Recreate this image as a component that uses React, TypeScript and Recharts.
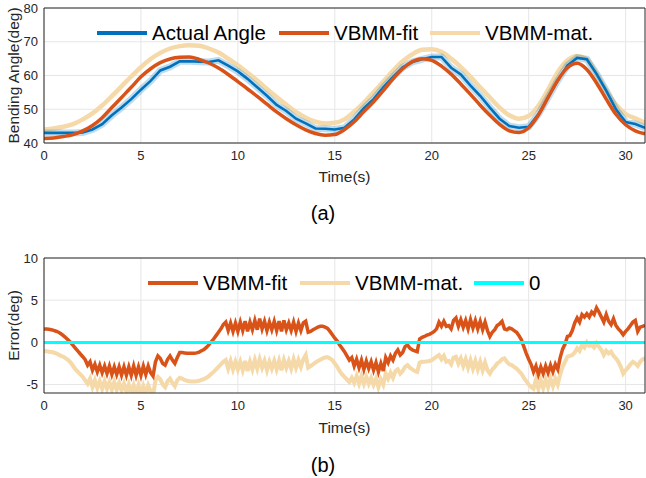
import { LineChart, Line, XAxis, YAxis, CartesianGrid } from "recharts";

const FONT = "'Liberation Sans', Arial, Helvetica, sans-serif";
const AXIS = "#262626";
const GRID = "#e6e6e6";
const BLUE = "#0072BD";
const ORANGE = "#D95319";
const BEIGE = "#F5D9A8";
const CYAN = "#00FFFF";

const timeTicks = [0, 5, 10, 15, 20, 25, 30];
const angleTicks = [40, 50, 60, 70, 80];
const errorTicks = [-5, 0, 5, 10];

// (a) bending angle, sampled every 0.5 s from t = 0 to 31
const actualAngle = [
  43, 43, 43, 43, 43.1, 44, 45.6, 48.2, 50.5, 53, 55.8, 58.4, 61.5, 62.6, 64.2, 64.2,
  64.1, 64, 64.5, 62.9, 61.2, 59, 56.5, 54, 51.3, 49.5, 47.2, 45.8, 44.3, 44.2, 44, 44.5,
  47, 50.3, 53, 56.5, 59.6, 62.4, 64, 64.8, 65.5, 65.5, 62.3, 60.3, 57, 54, 50.5, 47.2,
  45, 44.5, 44.8, 48.5, 53.5, 58.5, 63, 65.2, 64.8, 60.5, 55.5, 50, 46.2, 45.6, 44.5,
];
const fitAngle = [
  41.3, 41.5, 41.9, 42.5, 43.6, 45.2, 47.5, 50.5, 53.5, 56.5, 59.6, 62, 63.8, 64.9, 65.4, 65.5,
  64.8, 63.7, 62.2, 60.3, 58.2, 56, 53.8, 51.5, 49.2, 47.2, 45.4, 43.9, 42.8, 42.3, 42.5, 44,
  46.3, 49.3, 52.2, 55.5, 59, 62, 64.1, 65, 64.5, 62.8, 60.4, 57.5, 54.4, 51.2, 48.2, 45.5,
  43.6, 43.1, 44.5, 48.3, 53.5, 58.6, 62.3, 63.6, 61.8, 57.8, 53, 48.5, 45.4, 43.6, 42.7,
];
const matAngle = [
  44, 44.3, 44.8, 45.6, 47, 48.8, 51.1, 53.9, 56.8, 59.7, 62.5, 64.9, 66.7, 68, 68.7, 69,
  68.8, 68, 66.8, 65, 63, 60.8, 58.5, 56, 53.6, 51.3, 49.2, 47.5, 46.3, 45.8, 46, 47,
  49.3, 52, 55, 58.2, 61.4, 64.2, 66.3, 67.6, 67.8, 67, 65, 62.5, 59.6, 56.5, 53.5, 50.5,
  48.2, 47.2, 48, 51, 55.8, 61, 64.5, 65.8, 64.8, 60.5, 55.6, 51.4, 48.6, 47.3, 46,
];

// (b) error, sampled every 0.125 s (one row per second)
const errFit = [
  1.6, 1.58, 1.55, 1.5, 1.42, 1.32, 1.2, 1.02,
  0.8, 0.55, 0.28, -0.02, -0.35, -0.7, -1.05, -1.38,
  -1.7, -2.05, -2.7, -2.3, -3.3, -2.6, -3.5, -2.7,
  -3.6, -2.8, -3.7, -2.8, -3.8, -2.9, -3.8, -2.9,
  -3.9, -2.9, -3.9, -2.9, -3.9, -2.8, -3.9, -2.9,
  -3.9, -2.8, -3.8, -2.8, -3.6, -4.0, -2.3, -1.6,
  -1.9, -2.5, -2.7, -2.0, -1.6, -2.1, -2.5, -1.8,
  -1.2, -1.2, -1.25, -1.3, -1.3, -1.3, -1.3, -1.25,
  -1.15, -1.0, -0.85, -0.6, -0.3, 0.05, 0.4, 0.8,
  1.2, 1.6, 2.1, 2.4, 1.4, 2.3, 1.3, 2.3,
  1.3, 2.4, 1.4, 2.5, 1.3, 2.4, 1.5, 2.6,
  1.5, 2.8, 1.6, 2.5, 1.4, 2.4, 1.5, 2.5,
  1.4, 2.5, 1.3, 2.6, 1.5, 2.3, 1.4, 2.4,
  1.3, 2.3, 1.4, 2.3, 2.5, 1.2, 1.3, 1.5,
  1.65, 1.8, 1.9, 1.9, 1.8, 1.65, 1.3, 0.9,
  0.5, 0.15, -0.3, -0.7, -1.1, -1.6, -2.1, -1.8,
  -2.8, -2.0, -3.0, -2.1, -3.2, -2.2, -3.1, -2.3,
  -3.3, -2.4, -3.5, -2.5, -3.4, -1.8, -2.4, -1.6,
  -2.1, -1.3, -0.9, -1.5, -1.2, -0.5, -0.3, -0.7,
  -0.9, -1.0, -1.1, 0.4, 0.6, 0.7, 0.85, 0.95,
  1.1, 1.3, 1.6, 2.4, 1.9, 2.5, 1.9, 2.0,
  1.6, 2.6, 2.9, 1.9, 2.7, 1.8, 2.6, 1.6,
  2.7, 1.7, 2.6, 1.6, 2.5, 1.5, 2.4, 1.4,
  0.7, 1.2, 1.5, 2.0, 2.2, 2.5, 1.6, 1.5,
  1.7, 1.6, 1.4, 1.2, 0.8, 0.3, -0.5, -1.3,
  -2.0, -2.6, -3.5, -2.8, -3.8, -2.9, -3.7, -2.8,
  -3.6, -2.7, -3.5, -2.6, -3.2, -1.8, -0.8, -0.2,
  0.7, 0.8, 1.4, 2.3, 2.9, 2.4, 3.3, 3.0,
  3.4, 3.0, 3.6, 3.3, 4.1, 3.6, 3.0, 2.4,
  3.3, 2.5, 2.1, 2.8, 2.0, 1.6, 1.3, 0.9,
  1.3, 1.6, 2.0, 2.4, 2.6, 1.3, 1.8, 1.9,
  2.0,
];
const errMat = [
  -1.0, -1.05, -1.1, -1.15, -1.2, -1.3, -1.45, -1.6,
  -1.7, -1.9, -2.1, -2.4, -2.8, -3.2, -3.5, -3.8,
  -4.1, -4.5, -4.9, -4.3, -5.3, -4.5, -5.4, -4.6,
  -5.5, -4.6, -5.5, -4.7, -5.6, -4.7, -5.6, -4.8,
  -5.7, -4.9, -5.9, -5.0, -6.1, -5.1, -6.1, -5.1,
  -6.2, -5.2, -6.1, -5.1, -5.8, -6.3, -4.5, -4.1,
  -4.4, -5.0, -5.3, -4.6, -4.3, -4.8, -5.2, -4.5,
  -4.2, -4.3, -4.45, -4.55, -4.6, -4.65, -4.65, -4.6,
  -4.55, -4.45, -4.35, -4.2, -4.0, -3.75, -3.5, -3.2,
  -2.9, -2.6, -2.3, -2.1, -3.1, -2.2, -3.2, -2.3,
  -3.2, -2.3, -3.3, -2.2, -3.4, -2.3, -3.2, -2.1,
  -3.1, -2.0, -3.0, -2.2, -3.3, -2.3, -3.1, -2.2,
  -3.2, -2.2, -3.3, -2.1, -3.0, -2.2, -3.1, -2.0,
  -3.0, -2.1, -2.9, -2.0, -1.5, -3.0, -2.8, -2.6,
  -2.4, -2.2, -2.05, -1.9, -1.8, -1.75, -1.9, -2.1,
  -2.5, -2.9, -3.4, -3.8, -4.1, -4.4, -4.7, -4.2,
  -4.8, -4.0, -4.9, -4.0, -4.9, -4.1, -4.9, -4.2,
  -5.0, -4.3, -5.3, -4.4, -5.0, -3.7, -4.3, -3.6,
  -4.2, -3.4, -3.2, -3.7, -3.4, -2.9, -2.7, -3.0,
  -3.2, -3.4, -3.5, -2.4, -2.3, -2.3, -2.25, -2.2,
  -2.1, -1.9, -1.7, -1.5, -2.0, -1.6, -2.3, -2.2,
  -2.6, -1.8, -1.7, -2.5, -1.9, -2.8, -2.0, -3.0,
  -2.1, -3.1, -2.2, -3.2, -2.3, -3.3, -2.4, -3.3,
  -3.7, -3.2, -2.9, -2.5, -2.3, -2.0, -1.9, -2.3,
  -2.6, -2.7, -2.9, -3.1, -3.4, -3.7, -4.2, -4.6,
  -5.0, -5.3, -5.5, -4.4, -5.5, -4.5, -5.4, -4.4,
  -5.3, -4.3, -5.2, -4.3, -5.0, -3.8, -2.9, -2.3,
  -1.7, -1.6, -1.5, -1.2, -0.7, -1.0, -0.3, -0.6,
  0.0, -0.4, -0.3, -0.6, -0.1, -0.5, -0.9, -1.5,
  -1.0, -1.3, -1.1, -1.6, -1.9, -2.3, -2.9, -3.7,
  -3.3, -3.0, -2.6, -2.3, -2.5, -2.8, -2.3, -2.0,
  -1.9,
];
const zeroTime = [0, 31];
const zeroValue = [0, 0];

const sampled = (vals: number[], step: number) => vals.map((v, i) => ({ t: i * step, v }));
const paired = (ts: number[], vals: number[]) => ts.map((t, i) => ({ t, v: vals[i] }));

const tickStyle = { fill: AXIS, fontSize: 13, fontFamily: FONT };

// main axes carry labels; mirror axes draw the inward MATLAB-style ticks and the box
function axes(yDomain: number[], yTicks: number[]) {
  const x = { type: "number" as const, dataKey: "t", domain: [0, 31], ticks: timeTicks, allowDataOverflow: true, interval: 0 as const };
  const y = { type: "number" as const, domain: yDomain, ticks: yTicks, allowDataOverflow: true, interval: 0 as const };
  return [
    <XAxis key="xb" {...x} height={57} tickLine={false} tickSize={0} tickMargin={8} axisLine={{ stroke: AXIS }} tick={tickStyle} />,
    <XAxis key="xbm" xAxisId="bm" {...x} orientation="bottom" mirror tick={false} tickSize={5} tickLine={{ stroke: AXIS }} axisLine={false} />,
    <XAxis key="xt" xAxisId="top" {...x} orientation="top" mirror tick={false} tickSize={5} tickLine={{ stroke: AXIS }} axisLine={{ stroke: AXIS }} />,
    <YAxis key="yl" {...y} width={44} tickLine={false} tickSize={0} tickMargin={6} axisLine={{ stroke: AXIS }} tick={tickStyle} />,
    <YAxis key="ylm" yAxisId="lm" {...y} orientation="left" mirror tick={false} tickSize={5} tickLine={{ stroke: AXIS }} axisLine={false} />,
    <YAxis key="yr" yAxisId="r" {...y} orientation="right" mirror tick={false} tickSize={5} tickLine={{ stroke: AXIS }} axisLine={{ stroke: AXIS }} />,
  ];
}

const line = { type: "linear" as const, dot: false, activeDot: false, isAnimationActive: false, legendType: "none" as const };

function LegendItem({ x, y, color, width, label }: { x: number; y: number; color: string; width: number; label: string }) {
  return (
    <g>
      <line x1={x} x2={x + 50} y1={y} y2={y} stroke={color} strokeWidth={width} />
      <text x={x + 55} y={y} dy="0.36em" fontSize={20.5} fontFamily={FONT} fill="#000">
        {label}
      </text>
    </g>
  );
}

const abs = (left: number, top: number) => ({ position: "absolute" as const, left, top });

export default function App() {
  return (
    <div style={{ position: "absolute", left: 0, top: 0, width: 646, height: 478, background: "#fff", fontFamily: FONT }}>
      <div style={abs(0, 0)}>
        <LineChart width={646} height={200} margin={{ top: 8, right: 1, bottom: 0, left: 0 }}>
          <CartesianGrid stroke={GRID} horizontalValues={angleTicks} verticalValues={timeTicks} />
          {axes([40, 80], angleTicks)}
          <Line {...line} data={sampled(matAngle, 0.5)} dataKey="v" type="monotone" stroke={BEIGE} strokeWidth={4.5} />
          <Line {...line} data={sampled(actualAngle, 0.5)} dataKey="v" stroke={BLUE} strokeOpacity={0.25} strokeWidth={7} />
          <Line {...line} data={sampled(actualAngle, 0.5)} dataKey="v" stroke={BLUE} strokeWidth={2.6} />
          <Line {...line} data={sampled(fitAngle, 0.5)} dataKey="v" type="monotone" stroke={ORANGE} strokeWidth={3.5} />
        </LineChart>
      </div>
      <div style={abs(0, 240)}>
        <LineChart width={646} height={210} margin={{ top: 18, right: 1, bottom: 0, left: 0 }}>
          <CartesianGrid stroke={GRID} horizontalValues={errorTicks} verticalValues={timeTicks} />
          {axes([-6, 10], errorTicks)}
          <Line {...line} data={sampled(errMat, 0.125)} dataKey="v" stroke={BEIGE} strokeWidth={4} />
          <Line {...line} data={sampled(errFit, 0.125)} dataKey="v" stroke={ORANGE} strokeWidth={3.5} />
          <Line {...line} data={paired(zeroTime, zeroValue)} dataKey="v" stroke={CYAN} strokeWidth={3} />
        </LineChart>
      </div>

      <svg width={646} height={478} style={{ position: "absolute", left: 0, top: 0, pointerEvents: "none" }}>
        <LegendItem x={97} y={33} color={BLUE} width={4} label="Actual Angle" />
        <LegendItem x={279} y={33} color={ORANGE} width={4} label="VBMM-fit" />
        <LegendItem x={430} y={33} color={BEIGE} width={4} label="VBMM-mat." />
        <LegendItem x={148} y={283} color={ORANGE} width={4} label="VBMM-fit" />
        <LegendItem x={300} y={283} color={BEIGE} width={4} label="VBMM-mat." />
        <LegendItem x={474} y={283} color={CYAN} width={4} label="0" />

        <g fontFamily={FONT} fill={AXIS} fontSize={15.5} textAnchor="middle">
          <text x={344.5} y={176} dy="0.36em">Time(s)</text>
          <text x={344.5} y={427} dy="0.36em">Time(s)</text>
          <text transform="translate(13,75.5) rotate(-90)" dy="0.36em">Bending Angle(deg)</text>
          <text transform="translate(13,325.5) rotate(-90)" dy="0.36em">Error(deg)</text>
        </g>
        <g fontFamily={FONT} fill="#000" fontSize={20} textAnchor="middle">
          <text x={323} y={213} dy="0.36em">(a)</text>
          <text x={323} y={465} dy="0.36em">(b)</text>
        </g>
      </svg>
    </div>
  );
}
